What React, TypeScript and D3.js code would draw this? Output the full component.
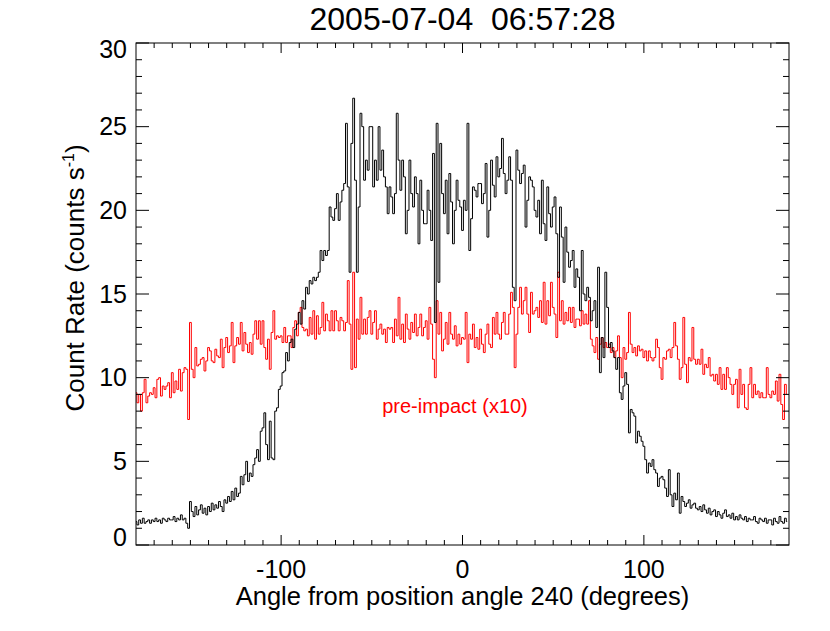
import React from "react";
import * as d3 from "d3";

// Bin centres: integer degrees from -180 to 179 (1-degree bins)
const angleStart = -180;

// Count rate (counts s^-1), one value per degree from -180 to 179
const countRate: number[] = [
  // -180..-171
  1.4, 1.2, 1.5, 1.3, 1.6, 1.3, 1.4, 1.5, 1.3, 1.5,
  // -170..-161
  1.4, 1.6, 1.4, 1.5, 1.3, 1.6, 1.5, 1.4, 1.6, 1.5,
  // -160..-151
  1.5, 1.7, 1.4, 1.6, 1.5, 1.8, 1.5, 1.6, 1.3, 1.0,
  // -150..-141
  2.6, 2.0, 1.7, 2.3, 1.8, 2.1, 2.4, 1.9, 2.2, 1.8,
  // -140..-131
  2.3, 2.0, 2.5, 2.1, 2.4, 2.2, 2.6, 2.3, 2.0, 2.7,
  // -130..-121
  2.5, 2.9, 2.6, 3.2, 2.7, 3.4, 2.9, 3.1, 4.1, 3.6,
  // -120..-111
  4.2, 5.0, 3.8, 4.3, 4.1, 4.8, 5.2, 5.7, 5.0, 6.8,
  // -110..-101
  7.0, 7.9, 6.0, 5.1, 7.4, 5.2, 5.1, 8.0, 8.2, 9.3,
  // -100..-91
  9.5, 10.3, 10.4, 11.5, 11.0, 12.1, 12.3, 11.8, 12.9, 13.2,
  // -90..-81
  13.9, 13.2, 14.6, 14.1, 15.4, 15.0, 15.8, 15.6, 16.0, 15.8,
  // -80..-71
  16.0, 16.3, 17.6, 17.0, 17.6, 17.3, 17.6, 20.2, 19.6, 19.4,
  // -70..-61
  20.1, 21.0, 19.4, 20.5, 21.2, 21.6, 25.2, 21.4, 16.3, 24.0,
  // -60..-51
  26.7, 21.8, 16.3, 20.2, 25.8, 25.0, 21.8, 23.0, 22.4, 25.0,
  // -50..-41
  25.0, 21.4, 23.0, 21.8, 25.0, 22.4, 23.6, 22.0, 21.4, 19.8,
  // -40..-31
  21.4, 20.8, 19.8, 21.0, 25.8, 23.0, 21.2, 23.0, 22.0, 18.6,
  // -30..-21
  20.0, 23.0, 21.0, 20.2, 22.0, 21.0, 18.0, 21.8, 20.0, 19.2,
  // -20..-11
  19.2, 21.2, 20.0, 18.2, 23.4, 13.3, 25.2, 15.7, 24.0, 21.0,
  // -10..-1
  19.8, 21.8, 18.6, 22.2, 20.5, 18.0, 20.0, 21.8, 20.6, 20.2,
  // 0..9
  18.8, 20.6, 20.0, 25.2, 17.6, 19.5, 21.4, 21.2, 20.8, 21.6,
  // 10..19
  21.6, 20.4, 21.0, 22.8, 18.4, 20.0, 23.0, 21.5, 20.8, 23.2,
  // 20..29
  22.0, 22.5, 24.3, 22.2, 21.0, 21.8, 23.2, 21.8, 15.4, 14.6,
  // 30..39
  23.6, 22.4, 21.6, 22.2, 22.7, 19.0, 20.6, 22.0, 21.8, 21.4,
  // 40..49
  20.0, 19.6, 20.6, 18.6, 21.8, 19.2, 18.2, 21.4, 19.8, 19.0,
  // 50..59
  20.2, 20.8, 18.6, 16.0, 20.2, 18.4, 15.7, 19.0, 17.5, 16.6,
  // 60..69
  17.0, 17.6, 15.4, 16.5, 16.0, 14.0, 17.6, 15.0, 14.6, 15.4,
  // 70..79
  14.8, 13.4, 14.0, 14.6, 13.0, 16.6, 10.3, 12.4, 11.2, 16.3,
  // 80..89
  14.2, 11.8, 12.1, 11.6, 11.2, 10.5, 11.2, 9.1, 8.7, 9.5,
  // 90..99
  10.3, 9.6, 6.7, 8.1, 7.9, 7.7, 6.1, 6.8, 6.5, 6.2,
  // 100..109
  5.9, 5.1, 4.3, 4.9, 4.7, 5.1, 4.5, 4.3, 3.5, 4.0,
  // 110..119
  4.1, 3.9, 3.4, 2.9, 4.5, 3.0, 2.3, 3.1, 2.7, 4.3,
  // 120..129
  1.9, 2.9, 2.6, 2.3, 2.5, 2.7, 2.2, 2.4, 2.5, 2.2,
  // 130..139
  2.1, 2.3, 2.0, 2.4, 2.1, 1.9, 2.2, 1.8, 2.0, 2.1,
  // 140..149
  1.7, 2.0, 1.8, 1.6, 1.9, 2.1, 1.7, 1.8, 1.6, 1.9,
  // 150..159
  1.5, 1.7, 1.5, 1.8, 1.6, 1.5, 1.7, 1.4, 1.6, 1.5,
  // 160..169
  1.5, 1.7, 1.4, 1.3, 1.6, 1.5, 1.4, 1.6, 1.3, 1.5,
  // 170..179
  1.5, 1.2, 1.6, 1.4, 1.3, 1.7, 1.4, 1.3, 1.6, 1.4,
];

// Pre-impact count rate multiplied by 10, one value per degree from -180 to 179
const preImpactX10: number[] = [
  // -180..-171
  9.1, 8.5, 9.0, 8.0, 9.1, 9.9, 8.5, 8.9, 9.1, 9.0,
  // -170..-161
  9.4, 8.8, 9.9, 10.0, 8.9, 9.5, 9.3, 9.5, 9.7, 8.8,
  // -160..-151
  10.3, 9.1, 9.8, 9.3, 10.5, 9.2, 10.3, 10.6, 10.5, 7.5,
  // -150..-141
  13.3, 10.5, 10.0, 11.8, 10.7, 10.8, 11.1, 11.2, 10.4, 11.0,
  // -140..-131
  11.8, 11.6, 11.0, 10.9, 11.7, 11.3, 11.2, 12.3, 10.6, 11.8,
  // -130..-121
  12.4, 11.5, 11.9, 13.3, 10.9, 11.9, 12.4, 12.0, 13.3, 11.6,
  // -120..-111
  12.7, 12.0, 11.5, 12.1, 11.4, 12.6, 13.4, 12.3, 13.4, 12.0,
  // -110..-101
  13.4, 11.8, 11.1, 12.3, 10.5, 12.7, 14.0, 12.3, 12.5, 12.4,
  // -100..-91
  12.5, 12.1, 13.0, 12.1, 12.5, 12.5, 11.8, 13.0, 13.4, 12.5,
  // -90..-81
  13.9, 14.2, 13.0, 12.8, 12.9, 12.5, 13.6, 12.6, 14.0, 12.3,
  // -80..-71
  13.7, 12.6, 13.0, 14.5, 12.8, 13.8, 13.4, 12.8, 14.0, 12.8,
  // -70..-61
  14.0, 13.4, 12.8, 13.6, 13.4, 12.8, 13.3, 15.8, 13.2, 10.5,
  // -60..-51
  16.3, 10.6, 13.5, 12.3, 14.8, 12.6, 13.5, 12.6, 13.6, 14.0,
  // -50..-41
  12.6, 13.3, 14.0, 12.3, 12.9, 13.2, 12.6, 12.9, 12.1, 13.0,
  // -40..-31
  12.9, 13.0, 12.1, 13.5, 12.5, 14.8, 12.3, 13.2, 12.1, 13.8,
  // -30..-21
  12.9, 12.3, 13.3, 12.7, 13.8, 12.5, 13.0, 13.8, 12.5, 13.0,
  // -20..-11
  13.4, 12.3, 14.2, 13.2, 11.1, 10.0, 14.6, 12.6, 13.9, 11.6,
  // -10..-1
  12.3, 13.3, 12.0, 13.9, 12.6, 12.3, 13.1, 11.9, 12.6, 12.0,
  // 0..9
  12.4, 12.3, 13.9, 10.9, 12.6, 12.3, 13.2, 11.8, 12.4, 11.7,
  // 10..19
  12.9, 12.0, 11.5, 12.6, 13.2, 12.0, 11.8, 13.6, 12.6, 13.9,
  // 20..29
  12.6, 12.3, 13.3, 13.9, 12.6, 12.6, 13.8, 15.1, 14.2, 10.6,
  // 30..39
  12.6, 14.2, 15.4, 13.8, 14.6, 15.4, 13.8, 12.7, 15.1, 13.8,
  // 40..49
  14.0, 14.2, 13.6, 14.6, 13.3, 15.7, 13.2, 14.6, 13.7, 15.7,
  // 50..59
  14.2, 13.8, 12.4, 16.3, 13.4, 14.6, 13.2, 13.9, 13.4, 14.2,
  // 60..69
  13.3, 14.2, 13.0, 13.5, 13.5, 13.1, 14.0, 13.2, 13.8, 13.2,
  // 70..79
  14.6, 12.3, 11.9, 11.5, 12.4, 11.1, 12.0, 12.4, 11.8, 12.1,
  // 80..89
  11.8, 12.0, 11.5, 11.8, 11.2, 11.6, 12.5, 11.2, 10.0, 11.8,
  // 90..99
  11.1, 11.5, 13.9, 12.0, 11.5, 11.8, 11.3, 11.9, 11.6, 11.7,
  // 100..109
  11.2, 11.6, 11.0, 11.6, 11.2, 11.0, 11.2, 12.3, 11.8, 10.6,
  // 110..119
  9.9, 11.2, 11.1, 11.6, 11.7, 11.2, 11.8, 13.3, 11.9, 11.1,
  // 120..129
  9.9, 10.6, 13.6, 10.8, 9.7, 11.2, 11.0, 13.0, 11.1, 10.8,
  // 130..139
  11.1, 10.8, 11.7, 10.2, 10.8, 10.6, 11.2, 10.1, 10.2, 9.8,
  // 140..149
  10.2, 9.6, 10.6, 9.3, 10.2, 9.3, 10.6, 10.0, 9.6, 9.0,
  // 150..159
  9.6, 9.9, 8.2, 10.5, 9.0, 9.6, 8.2, 8.1, 9.6, 10.6,
  // 160..169
  8.8, 9.6, 9.0, 9.2, 8.8, 9.1, 8.8, 8.8, 10.6, 9.0,
  // 170..179
  8.8, 9.2, 9.0, 9.8, 8.6, 10.2, 8.4, 7.5, 9.6, 9.0,
];

const xTickValues = [-100, 0, 100];
const yTickValues = [0, 5, 10, 15, 20, 25, 30];
const titleText = "2005-07-04  06:57:28";
const xLabelText = "Angle from position angle 240 (degrees)";
const annotationText = "pre-impact (x10)";

const W = 830;
const H = 631;
const M = { left: 136, right: 41, top: 43, bottom: 86 };
const FONT = "'Liberation Sans', Arial, Helvetica, sans-serif";

export default function App() {
  const x = d3.scaleLinear().domain([-180, 180]).range([M.left, W - M.right]);
  const y = d3.scaleLinear().domain([0, 30]).range([H - M.bottom, M.top]);
  const x0 = M.left, x1 = W - M.right, y0 = H - M.bottom, y1 = M.top;

  const line = d3
    .line<number>()
    .x((_, i) => x(angleStart + i))
    .y((v) => y(v))
    .curve(d3.curveStep);

  const xMinor = d3.range(-170, 180, 10);
  const yMinor = d3.range(0, 31, 1);

  const yLabelY = (v: number) => Math.min(Math.max(y(v), 49), 537);

  return (
    <svg width={W} height={H} style={{ display: "block", position: "absolute", left: 0, top: 0 }}>
      <rect width={W} height={H} fill="#fff" />
      <defs>
        <clipPath id="plotclip">
          <rect x={x0} y={y1} width={x1 - x0} height={y0 - y1} />
        </clipPath>
      </defs>
      <text x={(x0 + x1) / 2} y={30} textAnchor="middle" fontFamily={FONT} fontSize={32} fill="#000" style={{ whiteSpace: "pre" }}>
        {titleText}
      </text>
      <g clipPath="url(#plotclip)" fill="none" strokeWidth={1}>
        <path d={line(preImpactX10) || ""} stroke="#ff0000" />
        <path d={line(countRate) || ""} stroke="#000" />
      </g>
      {/* frame */}
      <rect x={x0} y={y1} width={x1 - x0} height={y0 - y1} fill="none" stroke="#000" strokeWidth={1} />
      {/* ticks on all four sides */}
      <g stroke="#000" strokeWidth={1}>
        {xMinor.map((v) => {
          const major = xTickValues.includes(v);
          const len = major ? 10 : 5;
          return (
            <g key={"xt" + v}>
              <line x1={x(v)} x2={x(v)} y1={y0} y2={y0 - len} />
              <line x1={x(v)} x2={x(v)} y1={y1} y2={y1 + len} />
            </g>
          );
        })}
        {yMinor.map((v) => {
          const major = yTickValues.includes(v);
          const len = major ? 13 : 6;
          return (
            <g key={"yt" + v}>
              <line x1={x0} x2={x0 + len} y1={y(v)} y2={y(v)} />
              <line x1={x1} x2={x1 - len} y1={y(v)} y2={y(v)} />
            </g>
          );
        })}
      </g>
      {xTickValues.map((v) => (
        <text key={"xl" + v} x={x(v)} y={578} textAnchor="middle" fontFamily={FONT} fontSize={25} fill="#000">
          {v}
        </text>
      ))}
      {yTickValues.map((v) => (
        <text key={"yl" + v} x={127} y={yLabelY(v)} dy="0.35em" textAnchor="end" fontFamily={FONT} fontSize={25} fill="#000">
          {v}
        </text>
      ))}
      <text x={(x0 + x1) / 2} y={605} textAnchor="middle" fontFamily={FONT} fontSize={25.5} fill="#000">
        {xLabelText}
      </text>
      <text transform={`translate(84, 278) rotate(-90)`} textAnchor="middle" fontFamily={FONT} fontSize={26} fill="#000">
        Count Rate (counts s<tspan dy={-10} fontSize={16}>-1</tspan><tspan dy={10}>)</tspan>
      </text>
      <text x={455} y={413} textAnchor="middle" fontFamily={FONT} fontSize={20} fill="#ff0000">
        {annotationText}
      </text>
    </svg>
  );
}
